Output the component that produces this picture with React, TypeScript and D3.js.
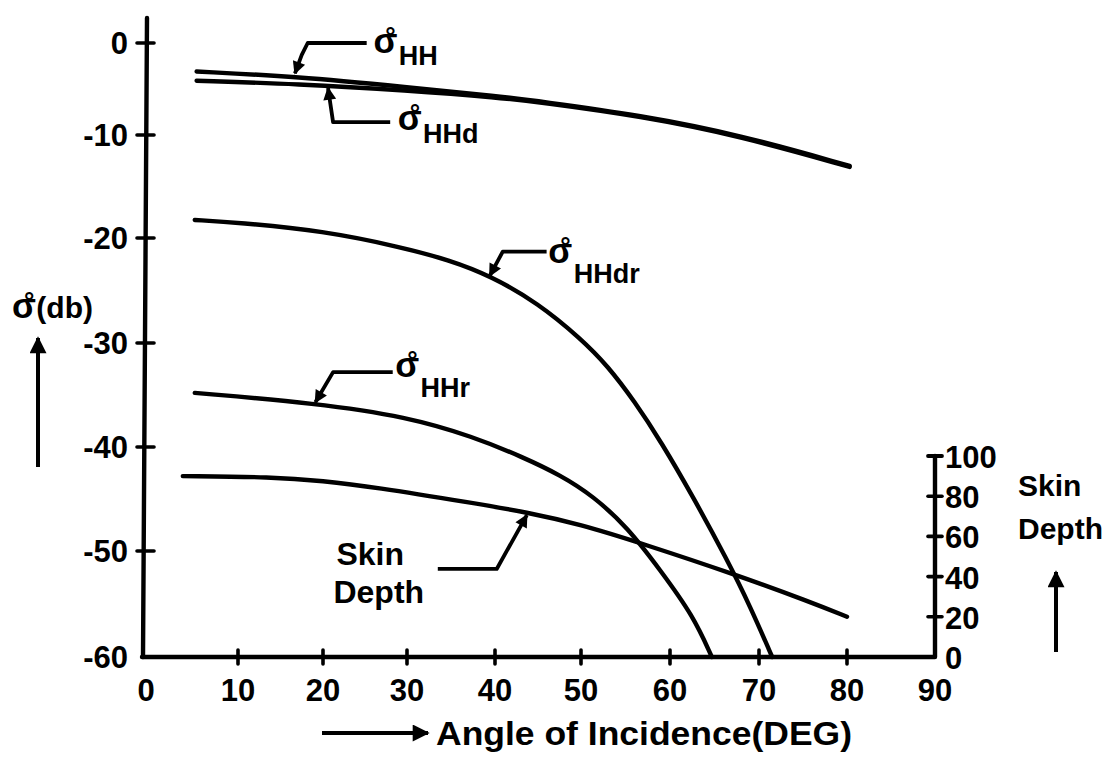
import React from "react";
import * as d3 from "d3";

// ---------- data ----------
const xTicks = [0, 10, 20, 30, 40, 50, 60, 70, 80, 90];
const yTicks = [0, -10, -20, -30, -40, -50, -60];
const skinTicks = [0, 20, 40, 60, 80, 100];

// [angle (deg), sigma (dB)]
const sigmaHH = [[5.5, -3.1], [17, -3.65], [30, -4.8], [40.6, -5.8], [45.2, -6.35], [56.7, -7.85], [67.9, -10.0], [80.3, -13.0]];
const sigmaHHd = [[5.5, -4.1], [17, -4.45], [30, -5.15], [40.6, -5.95], [45.2, -6.45], [56.7, -7.95], [67.9, -10.1], [80.3, -13.1]];
const sigmaHHdr = [[5.3, -18.25], [10, -18.5], [20, -19.3], [29.5, -20.9], [34.8, -22.1], [39.5, -23.6], [45, -26.2], [50, -29.6], [53, -32.2], [56, -35.6], [59, -39.5], [62.6, -44.8], [66.4, -50.8], [69, -55.2], [71.5, -60]];
const sigmaHHr = [[5.3, -34.8], [19.3, -35.8], [30, -37.1], [37.5, -39.0], [43.3, -41.0], [47.6, -42.7], [51.35, -44.7], [55.2, -47.7], [58.9, -51.8], [62.6, -56.1], [64.7, -60]];
// [angle (deg), skin depth (right axis)]
const skinDepth = [[4, 90], [14.1, 89.6], [20, 87.6], [26, 84.6], [37.5, 76.6], [43.7, 72], [49.9, 66], [56.7, 56.7], [67.5, 40.8], [75.8, 27.4], [80, 20]];

// annotation labels, in data units
const sigmaNotes = [
  { sub: "HH", at: [26.0, -1.1], leader: [[16.7, -3.3], [17.5, -1.3], [18.2, 0], [25.2, 0]] },
  { sub: "HHd", at: [28.9, -9.5], leader: [[20.6, -4.9], [21.2, -8.6], [28.0, -8.6]] },
  { sub: "HHdr", at: [46.2, -22.4], leader: [[39.4, -23.6], [40.9, -21.3], [46.0, -21.3]] },
  { sub: "HHr", at: [28.6, -33.3], leader: [[19.1, -35.7], [21.2, -32.8], [28.3, -32.8]] },
];
const skinNote = { lines: ["Skin", "Depth"], at: [21.6, 45.8], leader: [[43.7, 70.6], [40.2, 43.8], [33.5, 43.8]] };

// ---------- layout ----------
const W = 1115;
const H = 758;
const FONT = "'Liberation Sans', Arial, Helvetica, sans-serif";
const subDy = [12, 13, 20, 20];

export default function App() {
  const xs = d3.scaleLinear().domain(xTicks).range([146, 238, 323, 407, 495, 581, 670, 759, 847, 935]);
  const ys = d3.scaleLinear().domain([...yTicks].reverse()).range([657, 551, 447, 343, 238, 135, 43]);
  const yr = d3.scaleLinear().domain([0, 100]).range([657, 456]);

  const smooth = d3.curveBasis;
  const curve = d3.line<number[]>().x((d) => xs(d[0])).y((d) => ys(d[1])).curve(smooth);
  const curveR = d3.line<number[]>().x((d) => xs(d[0])).y((d) => yr(d[1])).curve(smooth);
  const lead = d3.line<number[]>().x((d) => xs(d[0])).y((d) => ys(d[1]));
  const leadR = d3.line<number[]>().x((d) => xs(d[0])).y((d) => yr(d[1]));

  const x0 = xs(0) - 1;
  const x90 = xs(90);
  const yb = ys(-60);
  const ink = "#000";
  const sw = 4.4;

  return (
    <svg width={W} height={H} style={{ position: "absolute", left: 0, top: 0, background: "#fff" }}
      fontFamily={FONT} fontWeight="bold">
      <defs>
        <marker id="ah" viewBox="0 0 10 10" refX="9" refY="5" markerWidth="17" markerHeight="13"
          markerUnits="userSpaceOnUse" orient="auto-start-reverse">
          <path d="M0,0 L10,5 L0,10 z" fill={ink} />
        </marker>
        <marker id="ah2" viewBox="0 0 10 10" refX="9" refY="5" markerWidth="18" markerHeight="17"
          markerUnits="userSpaceOnUse" orient="auto-start-reverse">
          <path d="M0,0 L10,5 L0,10 z" fill={ink} />
        </marker>
      </defs>
      <rect x={0} y={0} width={W} height={H} fill="#fff" />

      {/* axes */}
      <line x1={x0 + 2} y1={18} x2={x0 - 2} y2={yb} stroke={ink} strokeWidth={sw} strokeLinecap="round" />
      <path d={`M${x0 - 3},${yb} L${x90},${yb} L${x90},${yr(100)}`} fill="none" stroke={ink}
        strokeWidth={sw} strokeLinejoin="round" strokeLinecap="round" />
      <line x1={x90 - 7} y1={yr(100)} x2={x90 + 7} y2={yr(100)} stroke={ink} strokeWidth={sw - 0.6} strokeLinecap="round" />

      {/* left ticks + labels */}
      {yTicks.map((v) => (
        <g key={"y" + v}>
          {v > -60 && (
            <line x1={x0 - 8} x2={x0 + 9} y1={ys(v)} y2={ys(v)} stroke={ink} strokeWidth={3.6} strokeLinecap="round" />
          )}
          <text x={x0 - 17} y={ys(v) + 11} fontSize={31} textAnchor="end">{String(v)}</text>
        </g>
      ))}

      {/* bottom ticks + labels */}
      {xTicks.map((v) => (
        <g key={"x" + v}>
          {v > 0 && v < 90 && (
            <line x1={xs(v)} x2={xs(v)} y1={yb - 7} y2={yb + 7} stroke={ink} strokeWidth={3.6} strokeLinecap="round" />
          )}
          <text x={xs(v)} y={yb + 44} fontSize={31} textAnchor="middle">{String(v)}</text>
        </g>
      ))}

      {/* right ticks + labels */}
      {skinTicks.map((v) => (
        <g key={"r" + v}>
          {v > 0 && v < 100 && (
            <line x1={x90 - 7} x2={x90 + 7} y1={yr(v)} y2={yr(v)} stroke={ink} strokeWidth={3.6} strokeLinecap="round" />
          )}
          <text x={x90 + 10} y={yr(v) + 12} fontSize={31}>{String(v)}</text>
        </g>
      ))}

      {/* curves */}
      {[sigmaHH, sigmaHHd, sigmaHHdr, sigmaHHr].map((s, i) => (
        <path key={"c" + i} d={curve(s) || ""} fill="none" stroke={ink} strokeWidth={sw} strokeLinecap="round" />
      ))}
      <path d={curveR(skinDepth) || ""} fill="none" stroke={ink} strokeWidth={sw} strokeLinecap="round" />

      {/* sigma annotations */}
      {sigmaNotes.map((n, i) => {
        const ax = xs(n.at[0]);
        const ay = ys(n.at[1]);
        return (
          <g key={"n" + i}>
            <path d={lead(n.leader) || ""} fill="none" stroke={ink} strokeWidth={3.8}
              strokeLinejoin="round" markerStart="url(#ah)" />
            <text x={ax} y={ay}>
              <tspan fontSize={35}>σ</tspan>
              <tspan fontSize={26} dx={-12} dy={-8}>°</tspan>
              <tspan fontSize={27} dx={3} dy={8 + subDy[i]}>{n.sub}</tspan>
            </text>
          </g>
        );
      })}

      {/* skin depth annotation */}
      <path d={leadR(skinNote.leader) || ""} fill="none" stroke={ink} strokeWidth={3.8}
        strokeLinejoin="round" markerStart="url(#ah)" />
      {skinNote.lines.map((t, i) => (
        <text key={t} x={xs(skinNote.at[0]) - i * 3} y={yr(skinNote.at[1]) + i * 38} fontSize={32}>{t}</text>
      ))}

      {/* left axis title */}
      <text x={12} y={318}>
        <tspan fontSize={35}>σ</tspan>
        <tspan fontSize={26} dx={-12} dy={-8}>°</tspan>
        <tspan fontSize={30} dx={2} dy={8}>(db)</tspan>
      </text>
      <line x1={38} y1={467} x2={38} y2={338} stroke={ink} strokeWidth={4} markerEnd="url(#ah2)" />

      {/* right axis title */}
      <text x={1018} y={496} fontSize={30}>Skin</text>
      <text x={1018} y={539} fontSize={30}>Depth</text>
      <line x1={1056} y1={652} x2={1056} y2={572} stroke={ink} strokeWidth={4} markerEnd="url(#ah2)" />

      {/* bottom axis title */}
      <line x1={322} y1={733} x2={428} y2={733} stroke={ink} strokeWidth={4} markerEnd="url(#ah2)" />
      <text x={436} y={745} fontSize={33} textLength={416} lengthAdjust="spacingAndGlyphs">Angle of Incidence(DEG)</text>
    </svg>
  );
}
